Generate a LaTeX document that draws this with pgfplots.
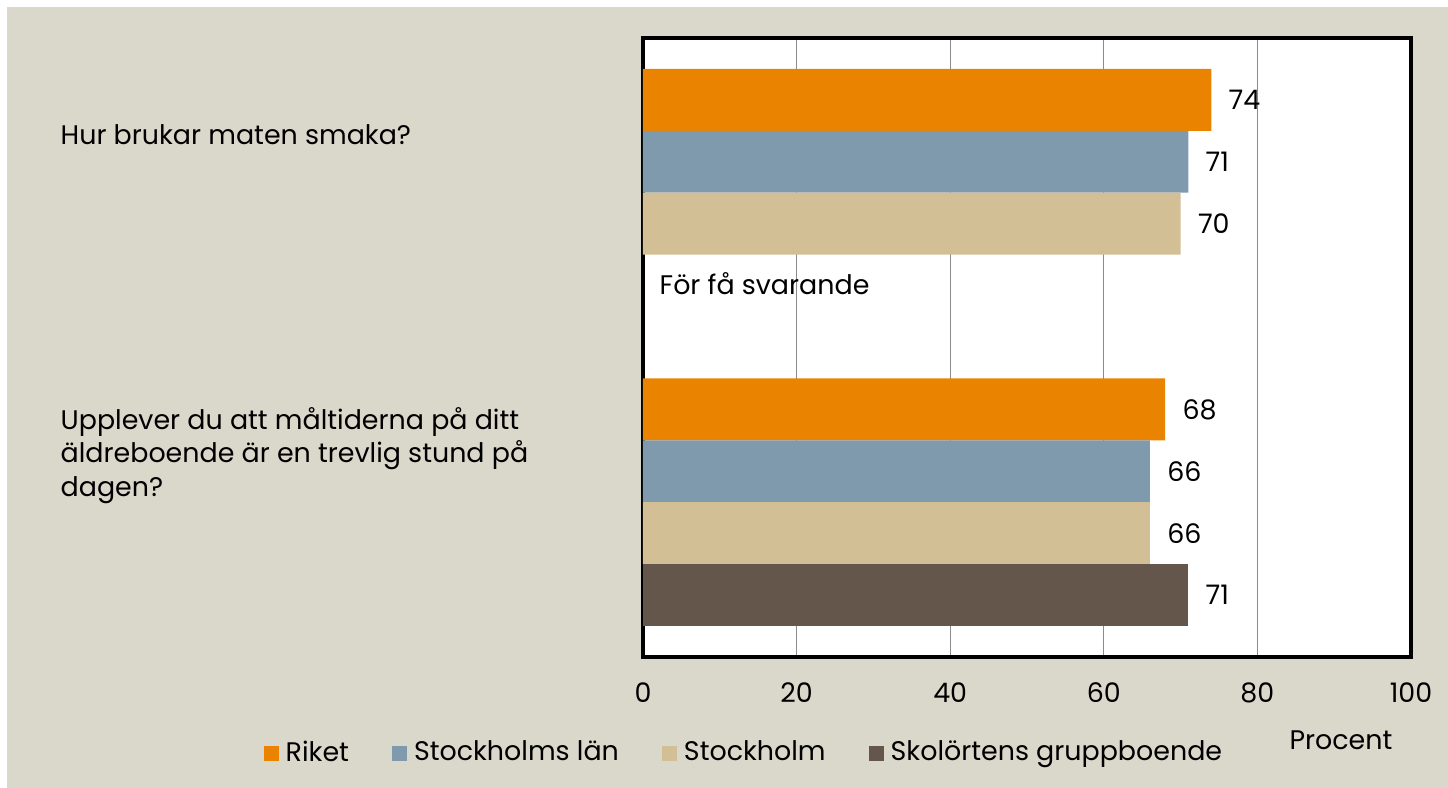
\documentclass[border=0pt]{standalone}
\usepackage{fontspec}
\setmainfont{Poppins}
\usepackage{pgfplots}
\pgfplotsset{compat=1.18}
\definecolor{bg}{HTML}{DAD7CB}
\definecolor{riket}{HTML}{E98300}
\definecolor{lan}{HTML}{7F9AAD}
\definecolor{sthlm}{HTML}{D3BF96}
\definecolor{skol}{HTML}{64564B}
\newcommand\myfont{\fontsize{7.65}{9.2}\selectfont}

\begin{document}
\begin{tikzpicture}
\path[use as bounding box] (0,0) rectangle (14.48,7.88);
\fill[white] (0,0) rectangle (14.48,7.88);
\fill[bg] (0.07,0) rectangle (14.48,7.81);

\begin{axis}[
    at={(6.43cm,1.31cm)}, anchor=south west,
    width=7.68cm, height=6.19cm, scale only axis,
    xmin=0, xmax=100, ymin=0, ymax=10,
    xbar, bar width=1, bar shift=0pt,
    xtick={0,20,...,100}, ytick=\empty,
    major tick length=0pt,
    xmajorgrids,
    major grid style={color=black!45, line width=0.35pt},
    axis line style={line width=1.2pt, black},
    axis background/.style={fill=white},
    tick label style={font=\myfont},
    xticklabel style={anchor=base, yshift=-0.46cm},
    /pgf/number format/assume math mode=true,
    nodes near coords,
    every node near coord/.append style={font=\myfont, anchor=west, xshift=0.05cm, text=black},
    legend columns=4,
    legend style={draw=none, fill=none, inner sep=0pt, font=\myfont,
        at={(axis description cs:-0.4948,-0.156)}, anchor=west,
        /tikz/every even column/.append style={column sep=0.36cm}},
    legend cell align=left,
    sq/.style={legend image code/.code={\fill[##1] (0cm,-0.075cm) rectangle (0.15cm,0.075cm);}},
    clip=false,
]
\addplot[fill=riket, draw=none, sq] coordinates {(74,9) (68,4)};
\addplot[fill=lan, draw=none, sq] coordinates {(71,8) (66,3)};
\addplot[fill=sthlm, draw=none, sq] coordinates {(70,7) (66,2)};
\addplot[fill=skol, draw=none, sq] coordinates {(71,1)};
\legend{Riket, Stockholms län, Stockholm, Skolörtens gruppboende}
\end{axis}

\begin{scope}[every node/.style={font=\myfont, inner sep=0pt, text=black}]
\node[anchor=base west] at (0.60,6.43) {Hur brukar maten smaka?};
\node[anchor=base west] at (0.60,3.58) {Upplever du att måltiderna på ditt};
\node[anchor=base west] at (0.60,3.25) {äldreboende är en trevlig stund på};
\node[anchor=base west] at (0.60,2.91) {dagen?};
\node[anchor=base west] at (6.59,4.93) {För få svarande};
\node[anchor=base east] at (13.93,0.38) {Procent};
\end{scope}
\end{tikzpicture}
\end{document}
